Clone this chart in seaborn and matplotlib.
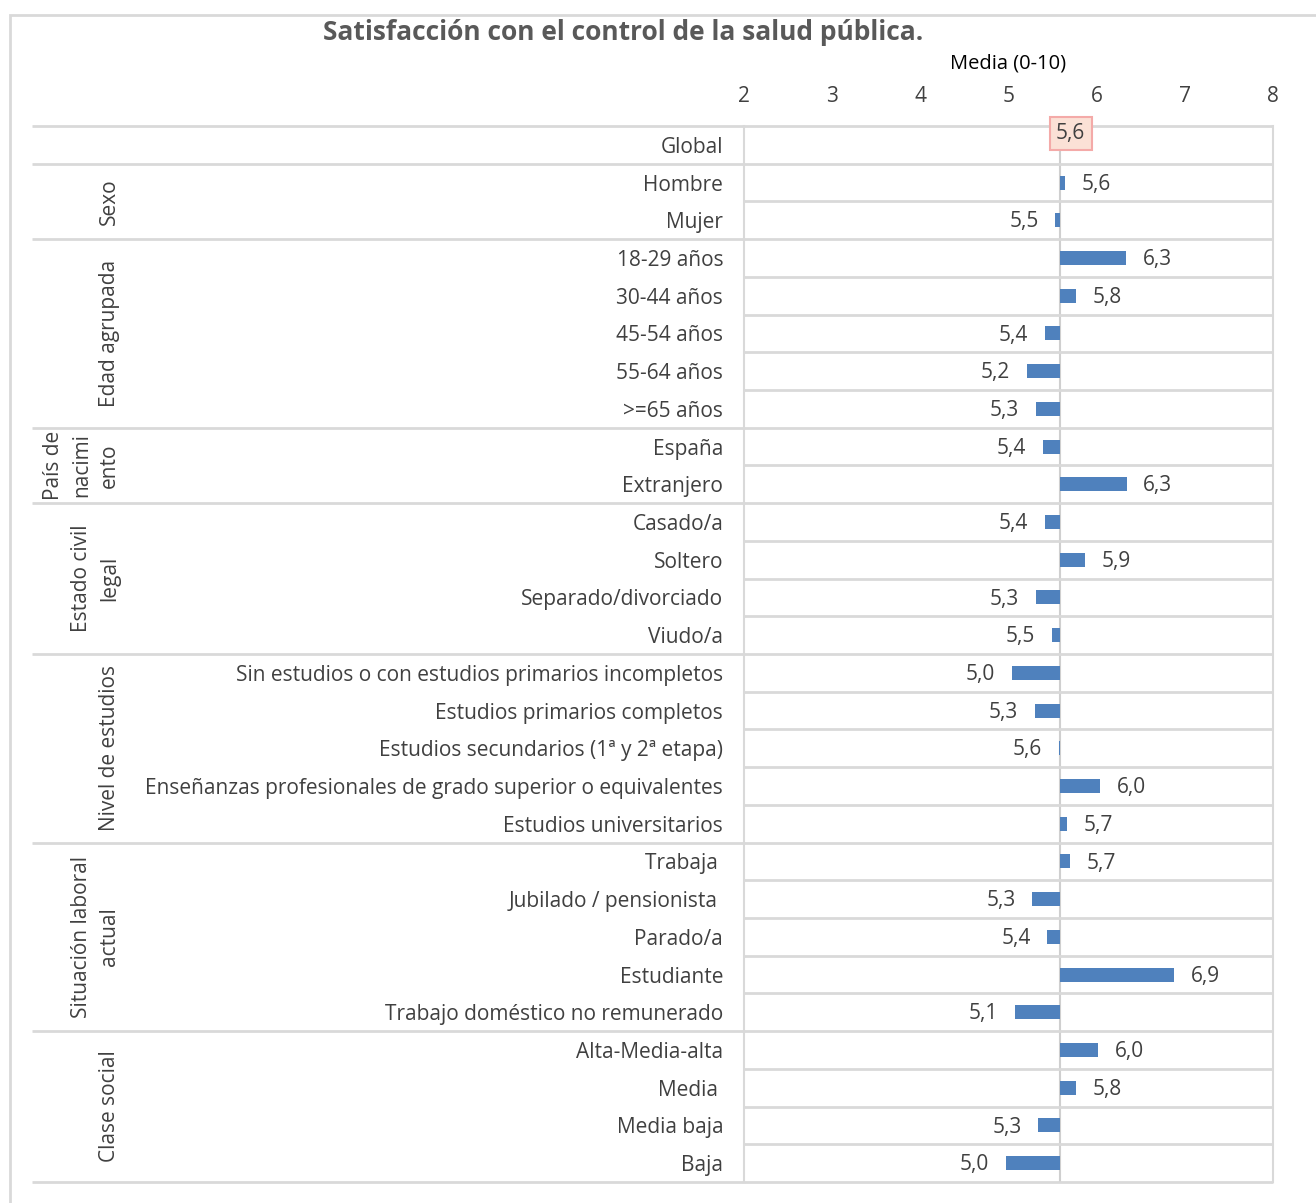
import matplotlib
matplotlib.use("Agg")
import matplotlib.pyplot as plt
import matplotlib.transforms as mtransforms
from matplotlib.patches import Rectangle
import seaborn as sns
import pandas as pd

# ---------------------------------------------------------------- data
global_mean = 5.58

categories = [
    "Global",
    "Hombre", "Mujer",
    "18-29 años", "30-44 años", "45-54 años", "55-64 años", ">=65 años",
    "España", "Extranjero",
    "Casado/a", "Soltero", "Separado/divorciado", "Viudo/a",
    "Sin estudios o con estudios primarios incompletos",
    "Estudios primarios completos",
    "Estudios secundarios (1ª y 2ª etapa)",
    "Enseñanzas profesionales de grado superior o equivalentes",
    "Estudios universitarios",
    "Trabaja ", "Jubilado / pensionista ", "Parado/a", "Estudiante",
    "Trabajo doméstico no remunerado",
    "Alta-Media-alta", "Media ", "Media baja", "Baja",
]

means = [
    5.58,
    5.64, 5.53,
    6.33, 5.76, 5.41, 5.21, 5.31,
    5.39, 6.34,
    5.41, 5.87, 5.31, 5.49,
    5.04, 5.30, 5.57, 6.04, 5.66,
    5.70, 5.27, 5.44, 6.88, 5.07,
    6.02, 5.76, 5.34, 4.97,
]

group_names = [
    "Sexo",
    "Edad agrupada",
    "País de\nnacimi\nento",
    "Estado civil\nlegal",
    "Nivel de estudios",
    "Situación laboral\nactual",
    "Clase social",
]
group_sizes = [2, 5, 2, 4, 5, 5, 4]

x_ticks = [2, 3, 4, 5, 6, 7, 8]

title = "Satisfacción con el control de la salud pública."
axis_title = "Media (0-10)"

# ---------------------------------------------------------------- style
sns.set_theme(style="white")
plt.rcParams["font.family"] = ["Open Sans", "DejaVu Sans"]

W, H = 1316, 1203
BAR_BLUE = "#4f81bd"
GRID = "#d9d9d9"
TEXT = "#404040"
FS = 15

fig = plt.figure(figsize=(W / 100, H / 100), dpi=100)
ax = fig.add_axes([744 / W, 1 - 1182 / H, (1273 - 744) / W, (1182 - 126) / H])

df = pd.DataFrame({"category": categories, "mean": means})
df["diff"] = df["mean"] - global_mean

sns.barplot(
    data=df, x="diff", y="category", orient="h", ax=ax,
    left=global_mean, color=BAR_BLUE, saturation=1, width=0.37,
    linewidth=0, errorbar=None,
)

n = len(categories)
ax.set_xlim(x_ticks[0], x_ticks[-1])
ax.set_ylim(n - 0.5, -0.5)

# axis on top, no tick marks
ax.xaxis.tick_top()
ax.xaxis.set_label_position("top")
ax.set_xticks(x_ticks)
ax.set_xticklabels([str(t) for t in x_ticks])
ax.tick_params(axis="x", length=0, pad=13.5, labelsize=FS, labelcolor=TEXT)
ax.tick_params(axis="y", length=0, pad=15, labelsize=FS, labelcolor=TEXT)
ax.set_ylabel("")
ax.set_xlabel(axis_title, fontsize=FS - 0.5, color="black", labelpad=13)

for side in ("top", "bottom"):
    ax.spines[side].set_visible(False)
for side in ("left", "right"):
    ax.spines[side].set_color(GRID)
    ax.spines[side].set_linewidth(1.5)

# reference line at the overall mean
ax.axvline(global_mean, color="#cfcfcf", lw=1.5, zorder=0)

# table rules: long ones separate groups, short ones separate rows
trans = mtransforms.blended_transform_factory(fig.transFigure, ax.transData)
x_left = 32 / W
x_plot0 = ax.get_position().x0
x_plot1 = ax.get_position().x1
group_edges = {-0.5}
acc = 0.5
group_edges.add(acc)
for size in group_sizes:
    acc += size
    group_edges.add(acc)
for k in range(n + 1):
    yb = k - 0.5
    x0 = x_left if yb in group_edges else x_plot0
    ax.plot([x0, x_plot1], [yb, yb], transform=trans, color=GRID, lw=2,
            clip_on=False, zorder=0, solid_capstyle="butt")

# group captions, rotated in the first column
start = 1
for name, size in zip(group_names, group_sizes):
    yc = start + (size - 1) / 2
    ax.text(120 / W, yc, name, transform=trans, rotation=90, ha="right",
            va="center", multialignment="center", linespacing=1.45,
            fontsize=FS, color=TEXT)
    start += size

# value labels beside each bar
def fmt(v):
    return f"{v:.1f}".replace(".", ",")

for i, v in enumerate(means):
    if i == 0:
        continue
    right = v >= global_mean
    ax.annotate(fmt(v), xy=(v, i), xytext=(12 if right else -12, -1.2),
                textcoords="offset points", ha="left" if right else "right",
                va="center", fontsize=FS, color=TEXT)

# overall mean shown in a highlighted box on the first row
ax.annotate(fmt(global_mean), xy=(global_mean, -0.5), xytext=(8, -5.5),
            textcoords="offset points", ha="center", va="center",
            fontsize=FS, color=TEXT, zorder=5,
            bbox=dict(boxstyle="square,pad=0.3", fc="#fbe1d6",
                      ec="#f4aaa8", lw=1.5))

# chart title and outer frame
fig.text(623 / W, 1 - 32.5 / H, title, ha="center", va="center",
         fontsize=19, fontweight="bold", color="#595959")
fig.patches.append(Rectangle((10 / W, -0.1), 2, 1.1 - 15 / H,
                             transform=fig.transFigure, fill=False,
                             ec=GRID, lw=2))

fig.savefig("out.png", dpi=100)
